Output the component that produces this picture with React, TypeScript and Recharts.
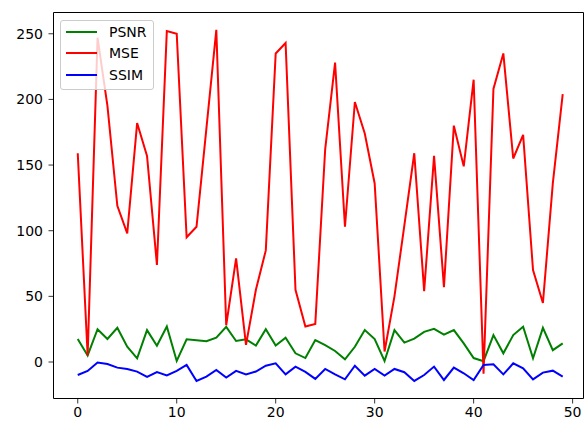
import React from 'react';
import { LineChart, Line, XAxis, YAxis, ReferenceArea } from 'recharts';

// values, one per step (0..49)
const PSNR: number[] = [
  17.5, 5, 25, 17.5, 26, 11.6, 2.8, 24.3, 12.4, 27,
  0.8, 17.3, 16.5, 15.8, 18.5, 26.8, 16, 17.3, 12.5, 25,
  12.5, 18.5, 6.6, 3, 16.7, 12.9, 8.4, 2, 11.6, 24.3,
  17.5, 0.8, 24.3, 14.8, 17.8, 23, 25.2, 20.8, 24.3, 14.2,
  3, 0.6, 20.5, 6.6, 20.5, 26.8, 2.8, 26, 9, 14.2,
];

const MSE: number[] = [
  159, 5, 247, 195, 119, 98, 182, 157, 74, 252,
  250, 95, 103, 178, 253, 28, 79, 13, 55, 85,
  235, 243, 55, 27, 29, 162, 228, 103, 198, 174,
  136, 8, 50, 104, 159, 54, 157, 57, 180, 149,
  215, -9, 208, 235, 155, 173, 70, 45, 136, 204,
];

const SSIM: number[] = [
  -9.9, -6.8, -0.4, -1.5, -4.3, -5.4, -7.3, -11.3, -7.6, -10.2,
  -6.7, -2.2, -14.4, -11.1, -6.1, -11.9, -6.8, -9.4, -7.3, -2.8,
  -1.0, -9.4, -3.5, -7.5, -12.9, -5.3, -9.4, -13.2, -2.8, -10.4,
  -5.3, -10.4, -5.3, -7.8, -14.4, -9.9, -3.5, -13.7, -4.3, -8.6,
  -13.7, -2.3, -1.8, -9.4, -1.0, -4.8, -13.2, -8.1, -6.6, -11.1,
];

const X_TICKS: number[] = [0, 10, 20, 30, 40, 50];
const Y_TICKS: number[] = [0, 50, 100, 150, 200, 250];

const SERIES = [
  { key: 'psnr', name: 'PSNR', color: '#008000' },
  { key: 'mse', name: 'MSE', color: '#ff0000' },
  { key: 'ssim', name: 'SSIM', color: '#0000ff' },
];

const X_DOMAIN: [number, number] = [-2.45, 51.1];
const Y_DOMAIN: [number, number] = [-27.8, 266.2];

const FONT = '"DejaVu Sans", sans-serif';

const data = MSE.map((mse, i) => ({
  step: i,
  psnr: PSNR[i],
  mse,
  ssim: SSIM[i],
}));

const tickStyle = { fill: '#000', fontSize: 14, fontFamily: FONT };

const MplLegend: React.FC = () => (
  <div
    style={{
      position: 'absolute',
      left: 60,
      top: 20,
      width: 94,
      height: 70,
      boxSizing: 'border-box',
      border: '1px solid #cccccc',
      borderRadius: 3,
      background: 'rgba(255,255,255,0.8)',
      fontFamily: FONT,
      fontSize: 14,
      color: '#000',
    }}
  >
    {SERIES.map((s, i) => (
      <div
        key={s.key}
        style={{
          position: 'absolute',
          left: 0,
          top: 1 + i * 21.3,
          height: 20,
          display: 'flex',
          alignItems: 'center',
          whiteSpace: 'nowrap',
        }}
      >
        <span style={{ display: 'inline-block', marginLeft: 5, width: 31, height: 0, borderTop: `2px solid ${s.color}` }} />
        <span style={{ marginLeft: 12 }}>{s.name}</span>
      </div>
    ))}
  </div>
);

export default function App() {
  return (
    <div style={{ position: 'absolute', left: 0, top: 0, width: 587, height: 421, background: '#fff' }}>
      <LineChart width={587} height={421} data={data} margin={{ top: 12.5, right: 3.5, bottom: 0, left: 0 }}>
        <XAxis
          dataKey="step"
          type="number"
          domain={X_DOMAIN}
          ticks={X_TICKS}
          allowDataOverflow
          height={22.5}
          tickSize={5}
          tickMargin={4}
          tick={tickStyle}
          axisLine={false}
          tickLine={{ stroke: '#000', strokeWidth: 0.8 }}
        />
        <YAxis
          type="number"
          domain={Y_DOMAIN}
          ticks={Y_TICKS}
          allowDataOverflow
          width={53.5}
          tickSize={5}
          tickMargin={5.5}
          tick={tickStyle}
          axisLine={false}
          tickLine={{ stroke: '#000', strokeWidth: 0.8 }}
        />
        <ReferenceArea
          x1={X_DOMAIN[0]}
          x2={X_DOMAIN[1]}
          y1={Y_DOMAIN[0]}
          y2={Y_DOMAIN[1]}
          fill="none"
          stroke="#000"
          strokeWidth={1}
        />
        {SERIES.map((s) => (
          <Line
            key={s.key}
            type="linear"
            dataKey={s.key}
            name={s.name}
            stroke={s.color}
            strokeWidth={2}
            dot={false}
            activeDot={false}
            isAnimationActive={false}
          />
        ))}
      </LineChart>
      <MplLegend />
    </div>
  );
}
